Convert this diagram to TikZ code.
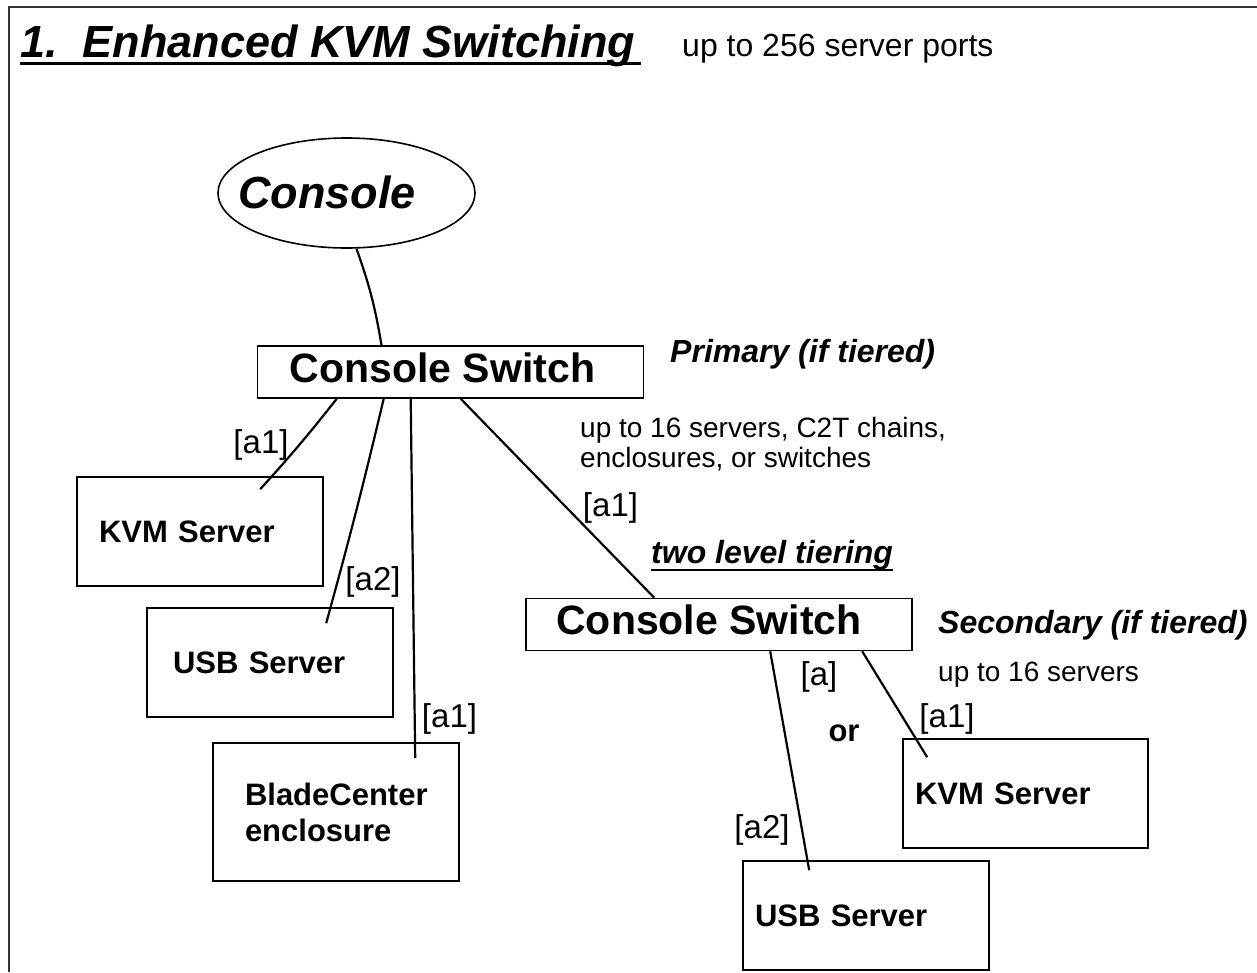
\documentclass[tikz,border=0pt]{standalone}
\usepackage{fontspec}
\setmainfont{Liberation Sans}
\usetikzlibrary{shapes.geometric}
\newcommand\fsz[2]{\fontsize{#1}{#2}\selectfont}
\begin{document}
\begin{tikzpicture}[x=1pt,y=-1pt,
  box/.style={draw, line width=1.6pt},
  srv/.style args={#1/#2}{box, minimum height=109pt, minimum width=246pt, inner ysep=0pt,
     inner xsep=#1pt, text width=#2pt, align=left, font=\fsz{31}{36}\bfseries},
  switchbox/.style={box, minimum width=386pt, minimum height=52pt, inner sep=0pt,
     text height=30pt, text depth=10pt, font=\fsz{41}{45}\bfseries},
  lab/.style={inner sep=0pt, font=\fsz{33}{36}},
  note/.style={inner sep=0pt, anchor=base west, font=\fsz{28}{32}},
  bnote/.style={inner sep=0pt, anchor=base west, font=\fsz{32}{36}\bfseries\itshape},
  conn/.style={line width=2.2pt}]
\useasboundingbox (0,0) rectangle (1257,972);
% frame
\draw[line width=2pt, black!80] (9,972) -- (9,7) -- (1257,7);
% title
\node[inner sep=0pt, anchor=base west, font=\fsz{45}{50}\bfseries\itshape] (title) at (20,57) {1.\ \ Enhanced KVM Switching};
\draw[line width=3pt] ([yshift=-6pt]title.base west) -- ([yshift=-6pt,xshift=6pt]title.base east);
\node[inner sep=0pt, anchor=base west, font=\fsz{32}{36}] (ports) at (682,56) {up to 256 server ports};
% console
\node[draw, ellipse, line width=1.6pt, minimum width=257pt, minimum height=110pt, inner sep=0pt] (console) at (346.5,193) {};
\node[inner sep=0pt, font=\fsz{45}{50}\bfseries\itshape] (consoletxt) at (327,192) {Console};
% switches
\node[switchbox] (sw1) at (450.5,372) {Console Switch\hspace*{16pt}};
\node[switchbox] (sw2) at (719,624.5) {Console Switch\hspace*{20pt}};
% servers
\node[srv=22/202] (kvm1) at (200,531.5) {KVM Server};
\node[srv=26/194] (usb1) at (270,662.5) {USB Server};
\node[srv=32/182, minimum height=138pt] (blade) at (336,812) {BladeCenter\\enclosure};
\node[srv=12/221, minimum width=245pt] (kvm2) at (1025.5,793.5) {KVM Server};
\node[srv=12/222, minimum height=109pt] (usb2) at (866,915.5) {USB Server};
% notes
\node[bnote] (primary) at (670,362) {Primary (if tiered)};
\node[note] (cap1) at (580,437) {up to 16 servers, C2T chains,};
\node[note] (cap2) at (580,467) {enclosures, or switches};
\node[bnote] (tiering) at (651,563) {two level tiering};
\draw[line width=1.8pt] ([yshift=-7pt]tiering.base west) -- ([yshift=-7pt]tiering.base east);
\node[bnote] (secondary) at (938,633) {Secondary (if tiered)};
\node[note] (cap3) at (938,681) {up to 16 servers};
% connector end points
\coordinate (ckvm1) at ([xshift=184pt,yshift=-13pt]kvm1.north west);
\coordinate (cusb1) at ([xshift=180pt,yshift=-16pt]usb1.north west);
\coordinate (cblade) at ([xshift=203pt,yshift=-16pt]blade.north west);
\coordinate (cusb2) at ([xshift=67pt,yshift=-10pt]usb2.north west);
\coordinate (ckvm2) at ([xshift=25pt,yshift=-19pt]kvm2.north west);
% connectors
\draw[conn] ([xshift=10pt]console.south) to[bend left=5] ([xshift=-69pt]sw1.north);
\draw[conn] ([xshift=80pt]sw1.south west) to[bend left=2] (ckvm1);
\draw[conn] ([xshift=127pt]sw1.south west) to[bend left=1] (cusb1);
\draw[conn] ([xshift=154pt]sw1.south west) -- (cblade);
\draw[conn] ([xshift=204pt]sw1.south west) -- ([xshift=129pt]sw2.north west);
\draw[conn] ([xshift=245pt]sw2.south west) -- (cusb2);
\draw[conn] ([xshift=337pt]sw2.south west) -- (ckvm2);
% labels
\node[lab] (l1) at (261,445) {[a1]};
\node[lab] (l2) at (373,582) {[a2]};
\node[lab] (l3) at (449.5,719) {[a1]};
\node[lab] (l4) at (610.5,507.5) {[a1]};
\node[lab] (l5) at (819,676.5) {[a]};
\node[lab, font=\fsz{31}{36}\bfseries] (lor) at (844,733) {or};
\node[lab] (l6) at (947,718.5) {[a1]};
\node[lab] (l7) at (762,830) {[a2]};
\end{tikzpicture}
\end{document}
